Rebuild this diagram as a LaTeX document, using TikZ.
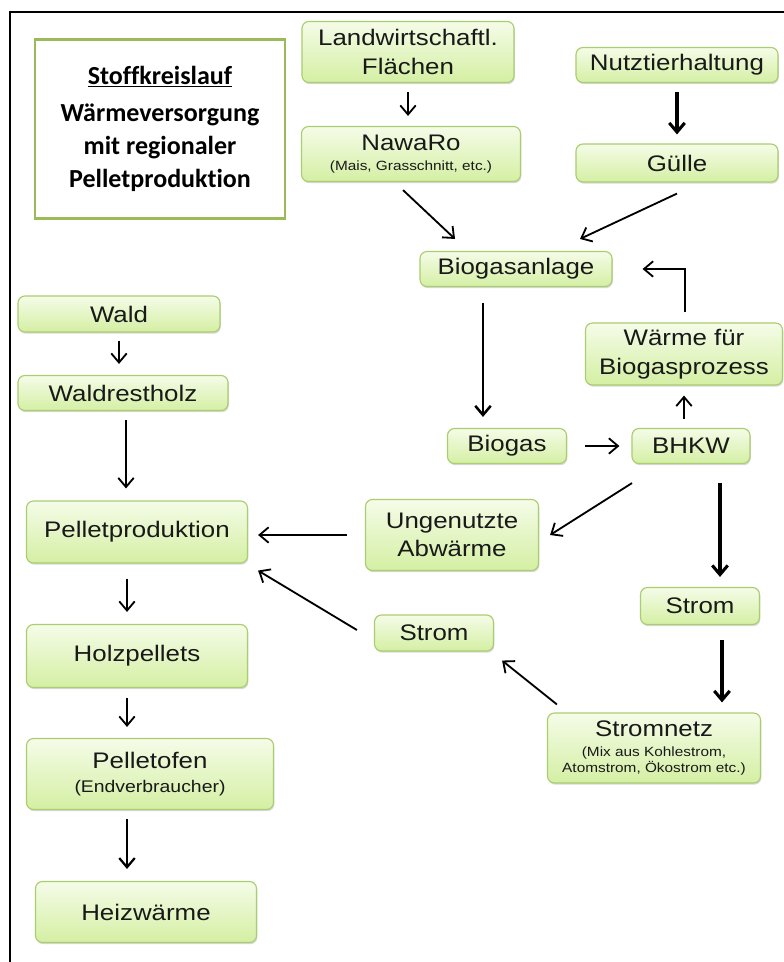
\documentclass[tikz,border=0pt]{standalone}
\usepackage{fontspec}
\usepackage{tikz}
\usetikzlibrary{arrows.meta,shadows}

\newfontfamily\boxfont{Liberation Sans}[FakeStretch=1.15]
\newfontfamily\titlefont{Carlito}[Ligatures=NoCommon]

\definecolor{boxtop}{RGB}{245,252,232}
\definecolor{boxbot}{RGB}{212,239,163}
\definecolor{boxline}{RGB}{170,205,112}
\definecolor{titleline}{RGB}{155,187,89}

\newcommand{\klein}[1]{{\fontsize{9.5}{12.5}\selectfont #1}}

\tikzset{
    flow/.style={draw=boxline, line width=0.8pt, rounded corners=5pt,
        top color=boxtop, bottom color=boxbot,
        drop shadow={shadow xshift=0.6pt, shadow yshift=-1.2pt, opacity=0.3},
        font=\boxfont\fontsize{16}{20}\selectfont, align=center, text=black!90, inner sep=0pt},
    arr/.style={-{Straight Barb[length=6.5pt,width=11pt]}, line width=1.3pt},
    fat/.style={arr, line width=2.2pt}
}

\begin{document}
\begin{tikzpicture}[x=0.025cm, y=-0.025cm]
        \useasboundingbox (0,0) rectangle (784,962);
        \draw[line width=2pt] (784,12) -- (10,12) -- (10,962);

        % title
        \node[draw=titleline, line width=2pt, fill=white, minimum width=6.25cm, minimum height=4.475cm,
              align=center, font=\titlefont\bfseries\fontsize{18.5}{23.5}\selectfont] (title) at (160,129)
              {\underline{Stoffkreislauf}\\[3pt]Wärmeversorgung\\mit regionaler\\Pelletproduktion};

        % biogas side
        \node[flow, minimum width=5.3cm, minimum height=1.525cm] (land) at (408,52) {Landwirtschaftl.\\Flächen};
        \node[flow, minimum width=5.475cm, minimum height=1.375cm] (nawaro) at (411,154) {NawaRo\\[-6pt]\klein{(Mais, Grasschnitt, etc.)}};
        \node[flow, minimum width=5.05cm, minimum height=0.875cm] (nutz) at (677,65) {Nutztierhaltung};
        \node[flow, minimum width=5.05cm, minimum height=0.95cm] (guelle) at (677,163) {Gülle};
        \node[flow, minimum width=4.8cm, minimum height=0.875cm] (anlage) at (516,269) {Biogasanlage};
        \node[flow, minimum width=4.925cm, minimum height=1.55cm] (waerme) at (684,354) {Wärme für\\[1pt]Biogasprozess};
        \node[flow, minimum width=2.975cm, minimum height=0.875cm] (biogas) at (507,446) {Biogas};
        \node[flow, minimum width=2.95cm, minimum height=0.875cm] (bhkw) at (691,446) {BHKW};
        \node[flow, minimum width=4.325cm, minimum height=1.775cm] (abw) at (452,535) {Ungenutzte\\Abwärme};
        \node[flow, minimum width=2.975cm, minimum height=0.9cm] (stroml) at (434,633) {Strom};
        \node[flow, minimum width=2.975cm, minimum height=0.925cm] (stromr) at (700,606) {Strom};
        \node[flow, minimum width=5.325cm, minimum height=1.75cm] (netz) at (654,748)
              {Stromnetz\\[-6pt]\klein{(Mix aus Kohlestrom,}\\[-8.5pt]\klein{Atomstrom, Ökostrom etc.)}};

        % pellet side
        \node[flow, minimum width=5.05cm, minimum height=0.9cm] (wald) at (119,314) {Wald};
        \node[flow, minimum width=5.25cm, minimum height=0.875cm] (rest) at (123,393) {Waldrestholz};
        \node[flow, minimum width=5.525cm, minimum height=1.55cm] (pprod) at (137,532) {Pelletproduktion};
        \node[flow, minimum width=5.525cm, minimum height=1.575cm] (hpell) at (137,656) {Holzpellets};
        \node[flow, minimum width=6.175cm, minimum height=1.775cm] (ofen) at (150,774)
              {Pelletofen\\[-3pt]{\fontsize{12}{14}\selectfont (Endverbraucher)}};
        \node[flow, minimum width=5.525cm, minimum height=1.525cm] (heiz) at (146,912) {Heizwärme};

        % arrows
        \draw[arr] ([shift={(0,9)}]land.south) -- ([shift={(-3,-10)}]nawaro.north);
        \draw[fat] ([shift={(0,9)}]nutz.south) -- ([shift={(0,-9)}]guelle.north);
        \draw[arr] ([shift={(-8,8)}]nawaro.south) -- ([shift={(-61,-12)}]anlage.north);
        \draw[arr] ([shift={(0,11)}]guelle.south) -- ([shift={(64,-12)}]anlage.north);
        \draw[arr, line width=1.8pt] ([shift={(-33,16)}]anlage.south) -- ([shift={(-24,-11)}]biogas.north);
        \draw[arr] ([shift={(18,0)}]biogas.east) -- ([shift={(-12,0)}]bhkw.west);
        \draw[arr] ([shift={(-7,-9)}]bhkw.north) -- ([shift={(0,10)}]waerme.south);
        \draw[arr] ([shift={(1,-10)}]waerme.north) |- ([shift={(30,0)}]anlage.east);
        \draw[arr] ([shift={(-59,19)}]bhkw.south) -- ([shift={(11,0)}]abw.east);
        \draw[fat] ([shift={(29,19)}]bhkw.south) -- ([shift={(20,-10)}]stromr.north);
        \draw[arr] ([shift={(-18,0)}]abw.west) -- ([shift={(10,3)}]pprod.east);
        \draw[arr] ([shift={(-17,-3)}]stroml.west) -- ([shift={(10,7)}]pprod.south east);
        \draw[fat] ([shift={(22,15)}]stromr.south) -- ([shift={(68,-10)}]netz.north);
        \draw[arr] ([shift={(10,-8)}]netz.north west) -- ([shift={(8,9)}]stroml.south east);

        \draw[arr] ([shift={(0,8)}]wald.south) -- ([shift={(-4,-11)}]rest.north);
        \draw[arr] ([shift={(3,9)}]rest.south) -- ([shift={(-11,-12)}]pprod.north);
        \draw[arr] ([shift={(-10,15)}]pprod.south) -- ([shift={(-10,-12)}]hpell.north);
        \draw[arr] ([shift={(-10,10)}]hpell.south) -- ([shift={(-23,-11)}]ofen.north);
        \draw[arr, line width=1.6pt] ([shift={(-23,9)}]ofen.south) -- ([shift={(-19,-12)}]heiz.north);
\end{tikzpicture}
\end{document}
